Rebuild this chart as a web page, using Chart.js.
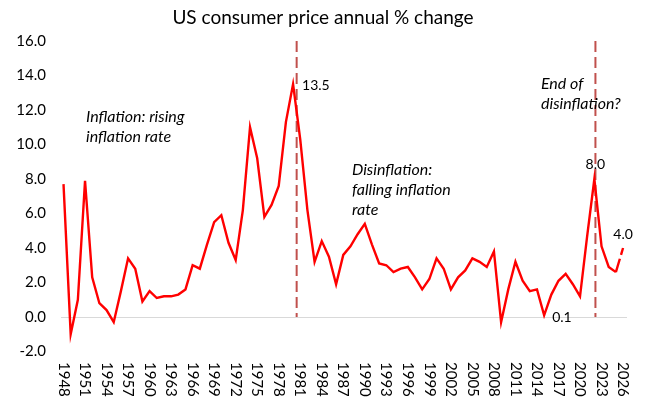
<!DOCTYPE html>
<html>
<head>
<meta charset="utf-8">
<script src="https://cdn.jsdelivr.net/npm/chart.js@4/dist/chart.umd.min.js"></script>
<style>
html,body{margin:0;padding:0;background:#fff;}
#wrap{width:650px;height:411px;position:relative;}
</style>
</head>
<body>
<div id="wrap"><canvas id="c" width="650" height="411"></canvas></div>
<script>
const years = [1948,1949,1950,1951,1952,1953,1954,1955,1956,1957,1958,1959,1960,1961,1962,1963,1964,1965,1966,1967,1968,1969,1970,1971,1972,1973,1974,1975,1976,1977,1978,1979,1980,1981,1982,1983,1984,1985,1986,1987,1988,1989,1990,1991,1992,1993,1994,1995,1996,1997,1998,1999,2000,2001,2002,2003,2004,2005,2006,2007,2008,2009,2010,2011,2012,2013,2014,2015,2016,2017,2018,2019,2020,2021,2022,2023,2024,2025,2026];
const cpiChange = [7.7,-1.0,1.0,7.9,2.3,0.8,0.4,-0.3,1.5,3.4,2.8,0.9,1.5,1.1,1.2,1.2,1.3,1.6,3.0,2.8,4.2,5.5,5.9,4.3,3.3,6.2,11.0,9.2,5.8,6.5,7.6,11.3,13.5,10.3,6.2,3.2,4.4,3.5,1.9,3.6,4.1,4.8,5.4,4.2,3.1,3.0,2.6,2.8,2.9,2.3,1.6,2.2,3.4,2.8,1.6,2.3,2.7,3.4,3.2,2.9,3.8,-0.3,1.6,3.2,2.1,1.5,1.6,0.1,1.3,2.1,2.5,1.9,1.2,4.7,8.0,4.1,2.9,2.6,4.0];
const tickYears = [1948,1951,1954,1957,1960,1963,1966,1969,1972,1975,1978,1981,1984,1987,1990,1993,1996,1999,2002,2005,2008,2011,2014,2017,2020,2023,2026];
const yTicks = [-2,0,2,4,6,8,10,12,14,16];
const markerYears = [1980.5, 2022.15];
const pointLabels = [
  {year:1980, text:'13.5', dx:9, dy:1, align:'left'},
  {year:2022, text:'8.0', dx:1, dy:-15, align:'center'},
  {year:2026, text:'4.0', dx:0, dy:-14, align:'center'},
  {year:2015, text:'0.1', dx:8, dy:2, align:'left'}
];
const notes = [
  {lines:['Inflation: rising','inflation rate'], x:86, y:117},
  {lines:['Disinflation:','falling inflation','rate'], x:352, y:170},
  {lines:['End of','disinflation?'], x:541, y:84}
];
const titleText = 'US consumer price annual % change';
const FONT = 'Lato';

const points = years.map((y,i)=>({x:y, y:cpiChange[i]}));

const overlay = {
  id:'overlay',
  beforeDatasetsDraw(chart){
    const ctx = chart.ctx, xs = chart.scales.x, ys = chart.scales.y;
    ctx.save();
    ctx.strokeStyle = '#C0504D';
    ctx.lineWidth = 2;
    ctx.setLineDash([11,5]);
    markerYears.forEach(m=>{
      const px = xs.getPixelForValue(m);
      ctx.beginPath();
      ctx.moveTo(px, ys.getPixelForValue(16));
      ctx.lineTo(px, ys.getPixelForValue(0));
      ctx.stroke();
    });
    ctx.restore();
  },
  afterDraw(chart){
    const ctx = chart.ctx, xs = chart.scales.x, ys = chart.scales.y;
    ctx.save();
    ctx.fillStyle = '#000';
    ctx.font = '19px ' + FONT;
    ctx.textAlign = 'center';
    ctx.textBaseline = 'middle';
    ctx.fillText(titleText, 323, 18);
    ctx.font = '15px ' + FONT;
    tickYears.forEach(t=>{
      const px = xs.getPixelForValue(t);
      ctx.save();
      ctx.translate(px, 362);
      ctx.rotate(Math.PI/2);
      ctx.textAlign = 'left';
      ctx.textBaseline = 'middle';
      ctx.fillText(String(t), 0, 0);
      ctx.restore();
    });
    ctx.font = '14px ' + FONT;
    ctx.textBaseline = 'middle';
    pointLabels.forEach(p=>{
      const i = years.indexOf(p.year);
      const px = xs.getPixelForValue(p.year), py = ys.getPixelForValue(cpiChange[i]);
      ctx.textAlign = p.align;
      ctx.fillText(p.text, px + p.dx, py + p.dy);
    });
    ctx.font = 'italic 16px ' + FONT;
    ctx.textAlign = 'left';
    notes.forEach(n=>{
      n.lines.forEach((l,k)=>ctx.fillText(l, n.x, n.y + k*20));
    });
    ctx.restore();
  }
};

new Chart(document.getElementById('c'), {
  type:'line',
  data:{datasets:[{
    data:points,
    borderColor:'#FF0000',
    borderWidth:2.4,
    pointRadius:0,
    tension:0,
    segment:{
      borderDash: ctx => ctx.p1DataIndex === years.length-1 ? [14,4] : undefined
    }
  }]},
  options:{
    responsive:false,
    animation:false,
    events:[],
    layout:{padding:{left:0,right:23,top:41,bottom:0}},
    plugins:{legend:{display:false},tooltip:{enabled:false},title:{display:false}},
    scales:{
      x:{
        type:'linear', min:1947.65, max:2026.55,
        afterBuildTicks: s => { s.ticks = tickYears.map(v=>({value:v})); },
        ticks:{display:false},
        grid:{display:false},
        border:{display:false},
        afterFit: s => { s.height = 59.5; }
      },
      y:{
        min:-2, max:16,
        afterBuildTicks: s => { s.ticks = yTicks.map(v=>({value:v})); },
        ticks:{
          color:'#000', padding:15,
          font:{family:FONT,size:15},
          callback: v => Number(v).toFixed(1)
        },
        grid:{
          drawTicks:false,
          color: c => (c.tick && c.tick.value === 0) ? '#D9D9D9' : 'rgba(0,0,0,0)',
          lineWidth:1
        },
        border:{display:false},
        afterFit: s => { s.width = 61; }
      }
    }
  },
  plugins:[overlay]
});
</script>
</body>
</html>
